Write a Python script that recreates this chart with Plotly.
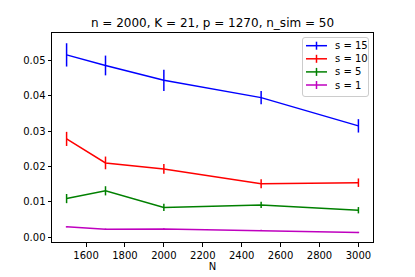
import plotly.graph_objects as go

N = [1500, 1700, 2000, 2500, 3000]
series_names = ["s = 15", "s = 10", "s = 5", "s = 1"]
s15 = [0.0516, 0.0486, 0.0444, 0.0395, 0.0315]
s15_err = [0.0033, 0.0028, 0.0030, 0.0019, 0.0019]
s10 = [0.0278, 0.0210, 0.0193, 0.0151, 0.0154]
s10_err = [0.0020, 0.0018, 0.0014, 0.0013, 0.0012]
s5 = [0.0109, 0.0131, 0.0084, 0.0091, 0.0076]
s5_err = [0.0013, 0.0013, 0.0010, 0.0009, 0.0009]
s1 = [0.0029, 0.0022, 0.0023, 0.0019, 0.0013]
s1_err = [0.0002, 0.0002, 0.0002, 0.0002, 0.0002]
colors = ["#0000ff", "#ff0000", "#008000", "#bf00bf"]

values = [s15, s10, s5, s1]
errors = [s15_err, s10_err, s5_err, s1_err]

W, H = 415, 277
ML, MR, MT, MB = 52, 42, 33, 35
PW, PH = W - ML - MR, H - MT - MB


def px(x):
    return (x - ML) / PW


def py(y):
    return (H - MB - y) / PH


fig = go.Figure()
for name, y, e, c in zip(series_names, values, errors, colors):
    fig.add_trace(go.Scatter(
        x=N, y=y, mode="lines", name=name, showlegend=False,
        line=dict(color=c, width=1.5),
        error_y=dict(type="data", array=e, visible=True, color=c, thickness=1.5, width=0),
    ))

# matplotlib-style legend drawn with shapes and annotations
shapes = []
annotations = []
bx0, bx1, by0, by1 = 302.5, 368.5, 37.5, 96.5
r = 2.5
path = (f"M {px(bx0 + r)},{py(by0)} L {px(bx1 - r)},{py(by0)} "
        f"Q {px(bx1)},{py(by0)} {px(bx1)},{py(by0 + r)} "
        f"L {px(bx1)},{py(by1 - r)} Q {px(bx1)},{py(by1)} {px(bx1 - r)},{py(by1)} "
        f"L {px(bx0 + r)},{py(by1)} Q {px(bx0)},{py(by1)} {px(bx0)},{py(by1 - r)} "
        f"L {px(bx0)},{py(by0 + r)} Q {px(bx0)},{py(by0)} {px(bx0 + r)},{py(by0)} Z")
shapes.append(dict(type="path", xref="paper", yref="paper", path=path,
                   fillcolor="rgba(255,255,255,0.8)", line=dict(color="#cccccc", width=1), layer="above"))
for i, (name, c) in enumerate(zip(series_names, colors)):
    yc = 45.7 + 13.1 * i
    shapes.append(dict(type="line", xref="paper", yref="paper",
                       x0=px(306), x1=px(327), y0=py(yc), y1=py(yc),
                       line=dict(color=c, width=1.5), layer="above"))
    shapes.append(dict(type="line", xref="paper", yref="paper",
                       x0=px(316.5), x1=px(316.5), y0=py(yc - 4), y1=py(yc + 4),
                       line=dict(color=c, width=1.5), layer="above"))
    annotations.append(dict(text=name, xref="paper", yref="paper", x=px(332.5), y=py(yc),
                            xanchor="left", yanchor="middle", showarrow=False,
                            font=dict(family="DejaVu Sans", size=10, color="black")))

axis_common = dict(
    showgrid=False, zeroline=False, showline=True, linecolor="black", linewidth=1,
    mirror=True, ticks="outside", ticklen=3.5, tickwidth=0.8, tickcolor="black",
    tickfont=dict(family="DejaVu Sans", size=10, color="black"), automargin=False,
)

fig.update_layout(
    width=W, height=H,
    margin=dict(l=ML, r=MR, t=MT, b=MB),
    paper_bgcolor="white", plot_bgcolor="white",
    title=dict(text="n = 2000, K = 21, p = 1270, n_sim = 50", x=0.5, xref="paper",
               xanchor="center", y=1 - 23 / H, yanchor="middle",
               font=dict(family="DejaVu Sans", size=12, color="black")),
    xaxis=dict(range=[1425, 3075], tickvals=[1600, 1800, 2000, 2200, 2400, 2600, 2800, 3000],
               title=dict(text="N", font=dict(family="DejaVu Sans", size=10, color="black"), standoff=2),
               **axis_common),
    yaxis=dict(range=[-0.0014, 0.0578], tickvals=[0, 0.01, 0.02, 0.03, 0.04, 0.05],
               tickformat=".2f", **axis_common),
    shapes=shapes,
    annotations=annotations,
    showlegend=False,
)

fig.write_html("out.html", config={"displayModeBar": False},
               post_script="document.body.style.margin='0';document.body.style.overflow='hidden';")
